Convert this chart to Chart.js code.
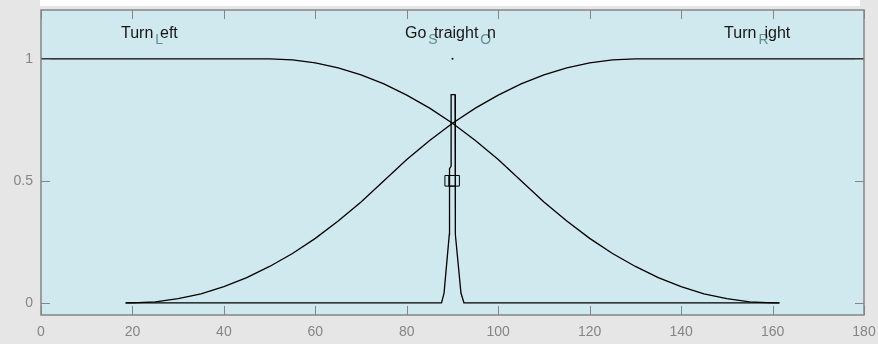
<!DOCTYPE html>
<html>
<head>
<meta charset="utf-8">
<script src="https://cdn.jsdelivr.net/npm/chart.js@4"></script>
<style>
  html, body { margin: 0; padding: 0; background: #e6e6e6; }
  #wrap { position: relative; width: 878px; height: 344px; }
  #strip { position: absolute; left: 40px; top: 0; width: 820px; height: 6px; background: #fff; }
  #mfChart { position: absolute; left: 0; top: 0; }
</style>
</head>
<body>
<div id="wrap"><div id="strip"></div><canvas id="mfChart" width="878" height="344"></canvas></div>
<script>
// axis ticks
const xTicks = [0, 20, 40, 60, 80, 100, 120, 140, 160, 180];
const yTicks = [0, 0.5, 1];

// membership functions
const turnLeftX = [0, 50, 55, 60, 65, 70, 75, 80, 85, 90, 95, 100, 105, 110, 115, 120, 125, 130, 135, 140, 145, 150, 155, 160, 161.5];
const turnLeftY = [1, 1, 0.996, 0.983, 0.963, 0.934, 0.897, 0.851, 0.798, 0.736, 0.665, 0.587, 0.5, 0.413, 0.335, 0.264, 0.202, 0.149, 0.103, 0.066, 0.037, 0.017, 0.004, 0, 0];

const goStraightX = [18.5, 87.6, 88.15, 89.3, 89.35, 89.7, 89.7, 90.55, 90.55, 90.7, 91.85, 92.5, 161.5];
const goStraightY = [0, 0, 0.04, 0.28, 0.55, 0.56, 0.853, 0.853, 0.56, 0.28, 0.04, 0, 0];

const turnRightX = [18.5, 20, 25, 30, 35, 40, 45, 50, 55, 60, 65, 70, 75, 80, 85, 90, 95, 100, 105, 110, 115, 120, 125, 130, 180];
const turnRightY = [0, 0, 0.004, 0.017, 0.037, 0.066, 0.103, 0.149, 0.202, 0.264, 0.335, 0.413, 0.5, 0.587, 0.665, 0.736, 0.798, 0.851, 0.897, 0.934, 0.963, 0.983, 0.996, 1, 1];

// little square markers and the dot on top
const markerX = [89.5, 90.35];
const markerY = [0.5, 0.5];
const dotX = [90];
const dotY = [1];

// labels: main text / subscript alternate
const mfNames = [["Turn", "L", "eft"], ["Go", "S", "traight", "O", "n"], ["Turn", "R", "ight"]];
const mfNameX = [17.5, 79.6, 149.4];
const mfNameY = 1.087;

const plotBg = "#cfe9ef";
const frameColor = "#858585";
const tickColor = "#858585";
const fontFam = "'Liberation Sans', Arial, sans-serif";

function pts(xs, ys) {
  return xs.map((x, i) => ({ x: x, y: ys[i] }));
}

const mfPlugin = {
  id: "mfPlugin",
  beforeDraw(chart) {
    const a = chart.chartArea;
    const ctx = chart.ctx;
    ctx.save();
    ctx.fillStyle = plotBg;
    ctx.fillRect(a.left, a.top, a.right - a.left, a.bottom - a.top);
    ctx.restore();
  },
  afterDatasetsDraw(chart) {
    const a = chart.chartArea;
    const ctx = chart.ctx;
    const xs = chart.scales.x;
    const ys = chart.scales.y;
    ctx.save();
    // inner ticks
    ctx.strokeStyle = frameColor;
    ctx.lineWidth = 1;
    ctx.beginPath();
    xTicks.forEach((v) => {
      const px = Math.round(xs.getPixelForValue(v)) + 0.5;
      ctx.moveTo(px, a.bottom);
      ctx.lineTo(px, a.bottom - 9);
      ctx.moveTo(px, a.top);
      ctx.lineTo(px, a.top + 9);
    });
    yTicks.forEach((v) => {
      const py = Math.round(ys.getPixelForValue(v)) + 0.5;
      ctx.moveTo(a.left, py);
      ctx.lineTo(a.left + 9, py);
      ctx.moveTo(a.right, py);
      ctx.lineTo(a.right - 9, py);
    });
    ctx.stroke();
    // frame
    ctx.lineWidth = 1.5;
    ctx.strokeRect(a.left, a.top, a.right - a.left, a.bottom - a.top);

    // tick labels
    ctx.fillStyle = tickColor;
    ctx.font = "14px " + fontFam;
    ctx.textBaseline = "middle";
    ctx.textAlign = "center";
    xTicks.forEach((v) => {
      ctx.fillText(String(v), xs.getPixelForValue(v), a.bottom + 17);
    });
    ctx.textAlign = "right";
    yTicks.forEach((v) => {
      ctx.fillText(String(v), a.left - 8, ys.getPixelForValue(v));
    });

    // mf names with tex-style subscripts
    ctx.textBaseline = "alphabetic";
    ctx.textAlign = "left";
    mfNames.forEach((parts, i) => {
      let x = xs.getPixelForValue(mfNameX[i]);
      const y = ys.getPixelForValue(mfNameY);
      parts.forEach((p, j) => {
        if (j % 2 === 0) {
          ctx.font = "16px " + fontFam;
          ctx.fillStyle = "#161616";
          ctx.fillText(p, x, y);
          x += ctx.measureText(p).width;
        } else {
          ctx.font = "14px " + fontFam;
          ctx.fillStyle = "#5f8f8f";
          ctx.fillText(p, x + 2, y + 6);
          x += 2 + ctx.measureText(p).width * 0.6;
        }
      });
    });
    ctx.restore();
  }
};

const lineStyle = {
  borderColor: "#000",
  borderWidth: 1.3,
  pointRadius: 0,
  fill: false,
  tension: 0
};

new Chart(document.getElementById("mfChart"), {
  type: "line",
  data: {
    datasets: [
      Object.assign({ label: "Turn_Left", data: pts(turnLeftX, turnLeftY) }, lineStyle),
      Object.assign({ label: "Go_Straight_On", data: pts(goStraightX, goStraightY) }, lineStyle),
      Object.assign({ label: "Turn_Right", data: pts(turnRightX, turnRightY) }, lineStyle),
      {
        label: "marker",
        data: pts(markerX, markerY),
        showLine: false,
        pointStyle: "rect",
        pointRadius: 7.5,
        pointBorderColor: "#000",
        pointBorderWidth: 1,
        pointBackgroundColor: "rgba(0,0,0,0)"
      },
      {
        label: "dot",
        data: pts(dotX, dotY),
        showLine: false,
        pointRadius: 1,
        pointBorderWidth: 0,
        pointBackgroundColor: "#000"
      }
    ]
  },
  options: {
    responsive: false,
    animation: false,
    devicePixelRatio: 1,
    layout: { padding: { top: 10, right: 14, left: 0, bottom: 0 } },
    plugins: { legend: { display: false }, tooltip: { enabled: false } },
    scales: {
      x: {
        type: "linear",
        min: 0,
        max: 180,
        grid: { display: false },
        border: { display: false },
        ticks: { display: false },
        afterBuildTicks: (s) => { s.ticks = xTicks.map((v) => ({ value: v })); },
        afterFit: (s) => { s.height = 29; }
      },
      y: {
        type: "linear",
        min: -0.05,
        max: 1.2,
        grid: { display: false },
        border: { display: false },
        ticks: { display: false },
        afterBuildTicks: (s) => { s.ticks = yTicks.map((v) => ({ value: v })); },
        afterFit: (s) => { s.width = 41; }
      }
    }
  },
  plugins: [mfPlugin]
});
</script>
</body>
</html>
